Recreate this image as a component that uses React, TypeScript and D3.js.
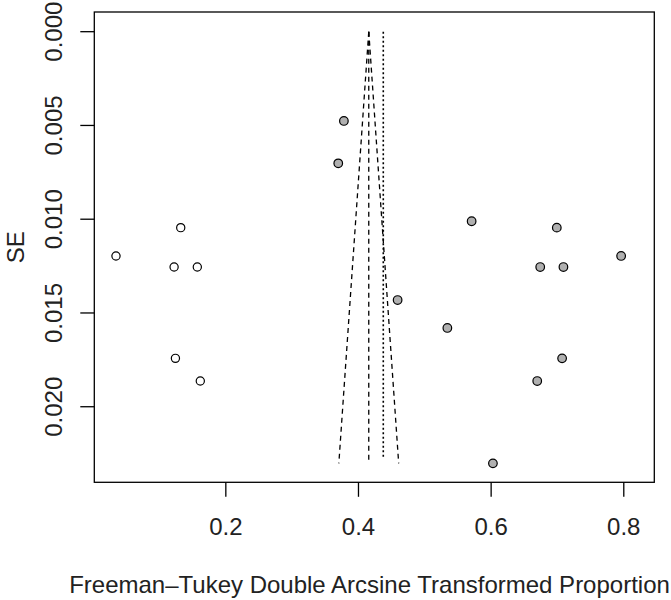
import React, { useEffect, useRef } from 'react';
import * as d3 from 'd3';

// Observed studies (filled grey)
const observedTE = [0.378, 0.3695, 0.5706, 0.699, 0.674, 0.709, 0.796, 0.459, 0.534, 0.707, 0.6695, 0.6027];
const observedSE = [0.00476, 0.00702, 0.01011, 0.01045, 0.01255, 0.01255, 0.01196, 0.01431, 0.0158, 0.01742, 0.01863, 0.02302];

// Imputed studies from trim-and-fill (open)
const filledTE = [0.0344, 0.132, 0.122, 0.157, 0.124, 0.1615];
const filledSE = [0.01196, 0.01045, 0.01255, 0.01255, 0.01742, 0.01863];

const pooledTE = 0.4155; // adjusted estimate (dashed)
const originalTE = 0.4374; // dotted reference line
const maxSE = 0.02302;

const xTicks = [0.2, 0.4, 0.6, 0.8];
const yTicks = [0.0, 0.005, 0.01, 0.015, 0.02];

const App: React.FC = () => {
  const svgRef = useRef<SVGSVGElement>(null);

  useEffect(() => {
    if (!svgRef.current) return;
    const width = 671;
    const height = 600;
    const left = 94.3, right = 654.3, top = 12, bottom = 482.3;
    const font = "'Liberation Sans', Arial, sans-serif";
    const fs = 24;

    const svg = d3.select(svgRef.current);
    svg.selectAll('*').remove();
    svg.attr('width', width).attr('height', height);

    const x = d3.scaleLinear().domain([0.0017, 0.846]).range([left, right]);
    const y = d3.scaleLinear().domain([-0.00105, 0.02403]).range([top, bottom]);

    const g = svg.append('g');

    // funnel
    const funnel = [
      [[pooledTE, 0], [pooledTE - 1.96 * maxSE, maxSE]],
      [[pooledTE, 0], [pooledTE + 1.96 * maxSE, maxSE]],
      [[pooledTE, 0], [pooledTE, maxSE]],
    ];
    funnel.forEach(seg => {
      g.append('line')
        .attr('x1', x(seg[0][0])).attr('y1', y(seg[0][1]))
        .attr('x2', x(seg[1][0])).attr('y2', y(seg[1][1]))
        .attr('stroke', '#000')
        .attr('stroke-width', 1.3)
        .attr('stroke-dasharray', '5,4');
    });
    g.append('line')
      .attr('x1', x(originalTE)).attr('y1', y(0))
      .attr('x2', x(originalTE)).attr('y2', y(maxSE) - 5)
      .attr('stroke', '#000')
      .attr('stroke-width', 1.6)
      .attr('stroke-dasharray', '2,2.5');

    // points
    const obs = observedTE.map((te, i) => ({ te, se: observedSE[i] }));
    const fil = filledTE.map((te, i) => ({ te, se: filledSE[i] }));

    g.selectAll('circle.obs')
      .data(obs)
      .enter()
      .append('circle')
      .attr('class', 'obs')
      .attr('cx', d => x(d.te))
      .attr('cy', d => y(d.se))
      .attr('r', 4.3)
      .attr('fill', '#b0b0b0')
      .attr('stroke', '#000')
      .attr('stroke-width', 1.2);

    g.selectAll('circle.fil')
      .data(fil)
      .enter()
      .append('circle')
      .attr('class', 'fil')
      .attr('cx', d => x(d.te))
      .attr('cy', d => y(d.se))
      .attr('r', 4.1)
      .attr('fill', '#fff')
      .attr('stroke', '#000')
      .attr('stroke-width', 1.2);

    // box
    g.append('rect')
      .attr('x', left).attr('y', top)
      .attr('width', right - left).attr('height', bottom - top)
      .attr('fill', 'none')
      .attr('stroke', '#000')
      .attr('stroke-width', 1.3);

    // x axis
    xTicks.forEach(t => {
      g.append('line')
        .attr('x1', x(t)).attr('x2', x(t))
        .attr('y1', bottom).attr('y2', bottom + 14.5)
        .attr('stroke', '#000').attr('stroke-width', 1.3);
      g.append('text')
        .attr('x', x(t)).attr('y', 535)
        .attr('text-anchor', 'middle')
        .attr('font-family', font).attr('font-size', fs)
        .attr('fill', '#222')
        .text(d3.format('.1f')(t));
    });

    // y axis
    yTicks.forEach(t => {
      g.append('line')
        .attr('x1', left).attr('x2', left - 14)
        .attr('y1', y(t)).attr('y2', y(t))
        .attr('stroke', '#000').attr('stroke-width', 1.3);
      g.append('text')
        .attr('transform', `translate(61.5, ${y(t)}) rotate(-90)`)
        .attr('text-anchor', 'middle')
        .attr('font-family', font).attr('font-size', fs)
        .attr('fill', '#222')
        .text(d3.format('.3f')(t));
    });

    // axis titles
    svg.append('text')
      .attr('x', 369.5).attr('y', 593)
      .attr('text-anchor', 'middle')
      .attr('font-family', font).attr('font-size', fs)
      .attr('fill', '#222')
      .text('Freeman\u2013Tukey Double Arcsine Transformed Proportion');

    svg.append('text')
      .attr('transform', `translate(23.5, ${(top + bottom) / 2}) rotate(-90)`)
      .attr('text-anchor', 'middle')
      .attr('font-family', font).attr('font-size', fs)
      .attr('fill', '#222')
      .text('SE');
  }, []);

  return (
    <div style={{ position: 'absolute', left: 0, top: 0 }}>
      <svg ref={svgRef} style={{ display: 'block' }}></svg>
    </div>
  );
};

export default App;
